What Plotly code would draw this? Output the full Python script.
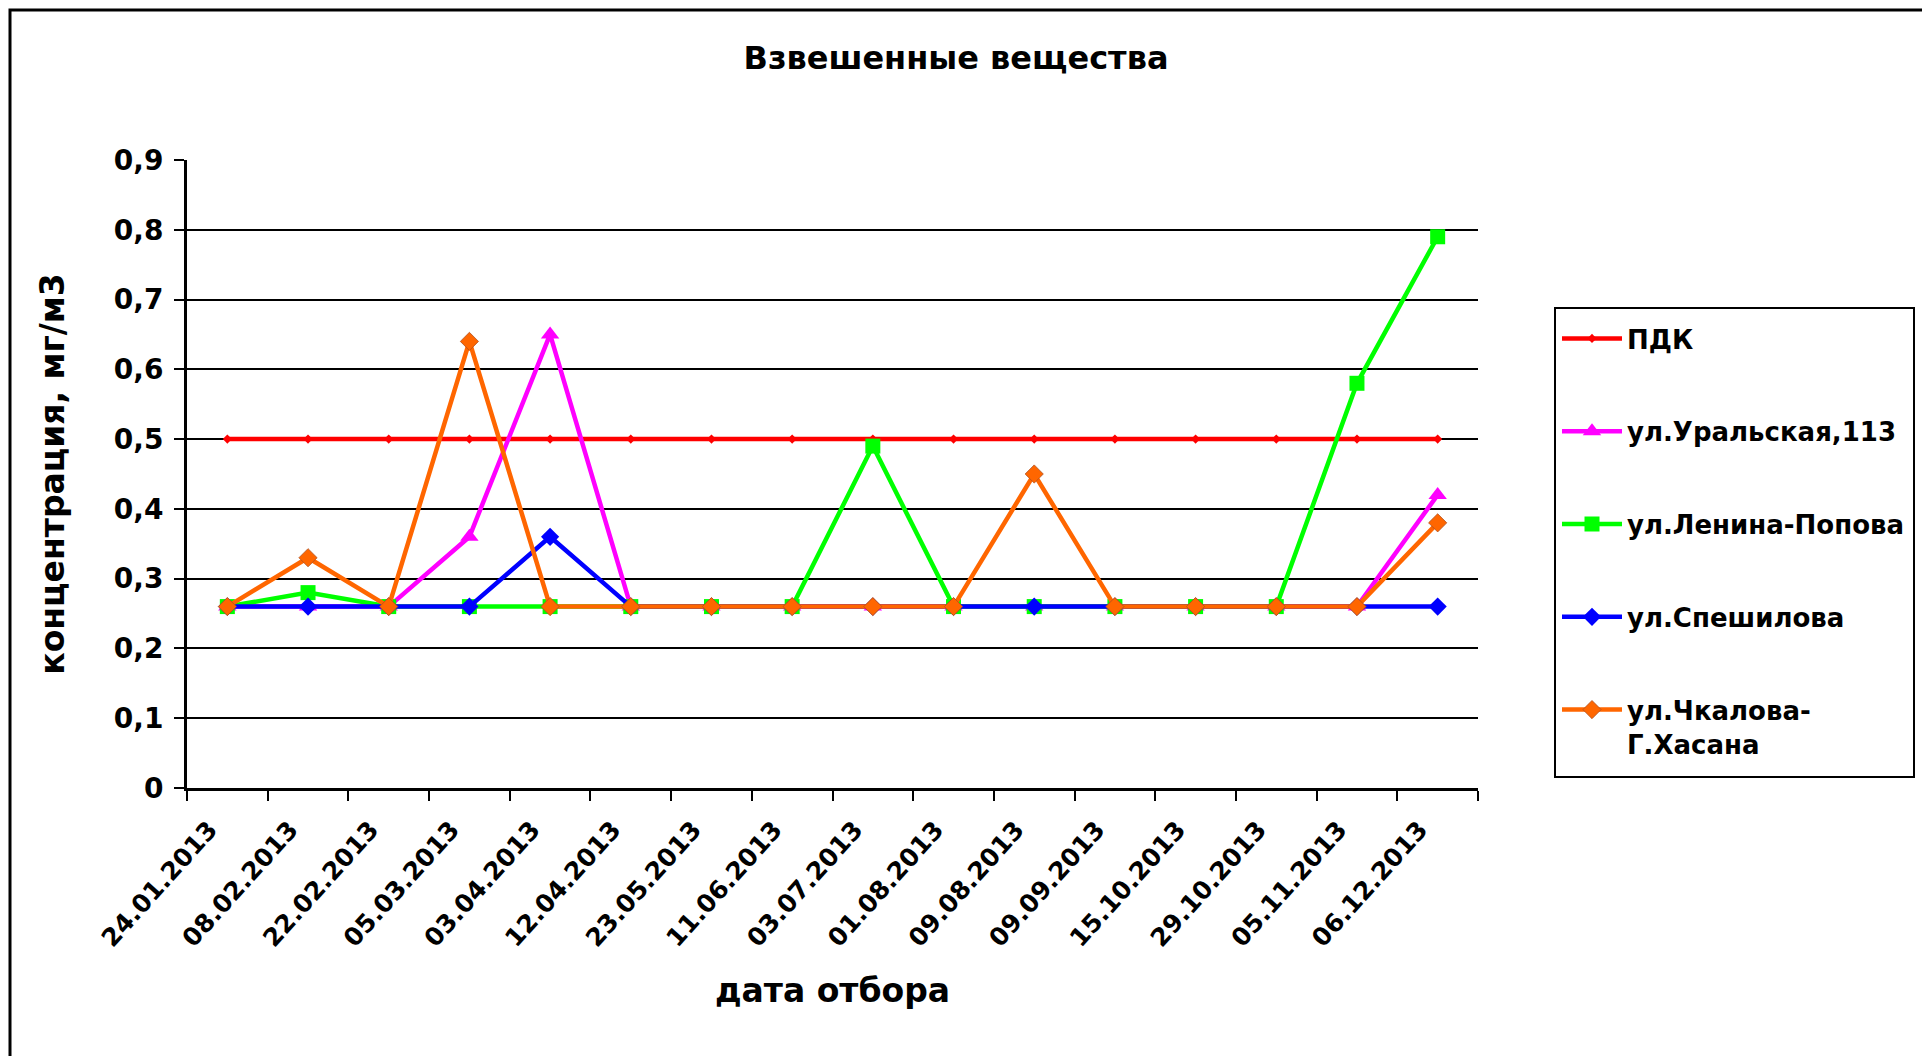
import plotly.graph_objects as go

dates = ["24.01.2013", "08.02.2013", "22.02.2013", "05.03.2013", "03.04.2013",
         "12.04.2013", "23.05.2013", "11.06.2013", "03.07.2013", "01.08.2013",
         "09.08.2013", "09.09.2013", "15.10.2013", "29.10.2013", "05.11.2013",
         "06.12.2013"]

pdk = [0.5] * 16
uralskaya = [0.26, 0.26, 0.26, 0.36, 0.65, 0.26, 0.26, 0.26, 0.26, 0.26,
             0.26, 0.26, 0.26, 0.26, 0.26, 0.42]
lenina = [0.26, 0.28, 0.26, 0.26, 0.26, 0.26, 0.26, 0.26, 0.49, 0.26,
          0.26, 0.26, 0.26, 0.26, 0.58, 0.79]
speshilova = [0.26, 0.26, 0.26, 0.26, 0.36, 0.26, 0.26, 0.26, 0.26, 0.26,
              0.26, 0.26, 0.26, 0.26, 0.26, 0.26]
chkalova = [0.26, 0.33, 0.26, 0.64, 0.26, 0.26, 0.26, 0.26, 0.26, 0.26,
            0.45, 0.26, 0.26, 0.26, 0.26, 0.38]

y_ticks = [0, 0.1, 0.2, 0.3, 0.4, 0.5, 0.6, 0.7, 0.8, 0.9]
y_tick_labels = ["0", "0,1", "0,2", "0,3", "0,4", "0,5", "0,6", "0,7", "0,8", "0,9"]

series = [
    ("ПДК", pdk, "#FF0000", "diamond", 7),
    ("ул.Уральская,113", uralskaya, "#FF00FF", "triangle-up", 16),
    ("ул.Ленина-Попова", lenina, "#00FF00", "square", 15),
    ("ул.Спешилова", speshilova, "#0000FF", "diamond", 14),
    ("ул.Чкалова-<br>Г.Хасана", chkalova, "#FF6600", "diamond", 14),
]

FONT = "DejaVu Sans"
W, H = 1930, 1056
L, R, T, B = 179, 460, 152, 276
PW, PH = W - L - R, H - T - B

fig = go.Figure()
for i, (name, vals, color, sym, size) in enumerate(series):
    fig.add_trace(go.Scatter(
        x=dates, y=vals, name=name, mode="lines+markers",
        line=dict(color=color, width=4.5),
        marker=dict(symbol=sym, size=size, color=color,
                    line=dict(width=0.8 if i == 4 else 0,
                              color="#B05020" if i == 4 else color)),
        legendgroup=f"g{i}",
    ))

def px_x(px):
    return (px - L) / PW

def px_y(py):
    return (H - B - py) / PH

fig.update_layout(
    width=W, height=H,
    margin=dict(l=L, r=R, t=T, b=B, autoexpand=False),
    paper_bgcolor="white", plot_bgcolor="white",
    font=dict(family=FONT, color="black", weight="bold"),
    title=dict(text="Взвешенные вещества", x=948 / W, xref="container",
               y=1 - 50 / H, yref="container", xanchor="center", yanchor="middle",
               font=dict(family=FONT, size=32, weight="bold", color="black")),
    showlegend=True,
    legend=dict(
        x=px_x(1549), y=px_y(307), xanchor="left", yanchor="top",
        xref="paper", yref="paper",
        borderwidth=0, bgcolor="rgba(0,0,0,0)",
        font=dict(family=FONT, size=26, weight="bold", color="black"),
        traceorder="grouped", tracegroupgap=56, itemwidth=60, valign="top",
    ),
    xaxis=dict(
        type="category", tickson="boundaries", ticks="outside", ticklen=10,
        tickwidth=2, tickcolor="black", showline=True, linecolor="black", linewidth=3,
        showgrid=False, tickangle=-48, ticklabelstandoff=14, ticklabelshift=-18,
        tickfont=dict(family=FONT, size=25, weight="bold", color="black"),
        title=dict(text="дата отбора", standoff=28,
                   font=dict(family=FONT, size=33, weight="bold", color="black")),
        range=[-0.5, len(dates) - 0.5], automargin=False,
    ),
    yaxis=dict(
        range=[0, 0.9], tickvals=y_ticks, ticktext=y_tick_labels,
        ticks="outside", ticklen=10, tickwidth=2, tickcolor="black",
        showline=True, linecolor="black", linewidth=3,
        showgrid=True, gridcolor="black", gridwidth=2, zeroline=False,
        tickfont=dict(family=FONT, size=28, weight="bold", color="black"),
        ticklabelstandoff=5,
        title=dict(text="концентрация, мг/м3", standoff=40,
                   font=dict(family=FONT, size=33, weight="bold", color="black")),
        automargin=False,
    ),
    shapes=[
        dict(type="rect", xref="paper", yref="paper",
             x0=px_x(2), x1=px_x(1945), y0=px_y(1070), y1=px_y(2),
             line=dict(color="black", width=3), layer="below"),
        dict(type="rect", xref="paper", yref="paper",
             x0=px_x(1547), x1=px_x(1906), y0=px_y(769), y1=px_y(300),
             line=dict(color="black", width=2), layer="below"),
    ],
)

fig.write_html("out.html")
